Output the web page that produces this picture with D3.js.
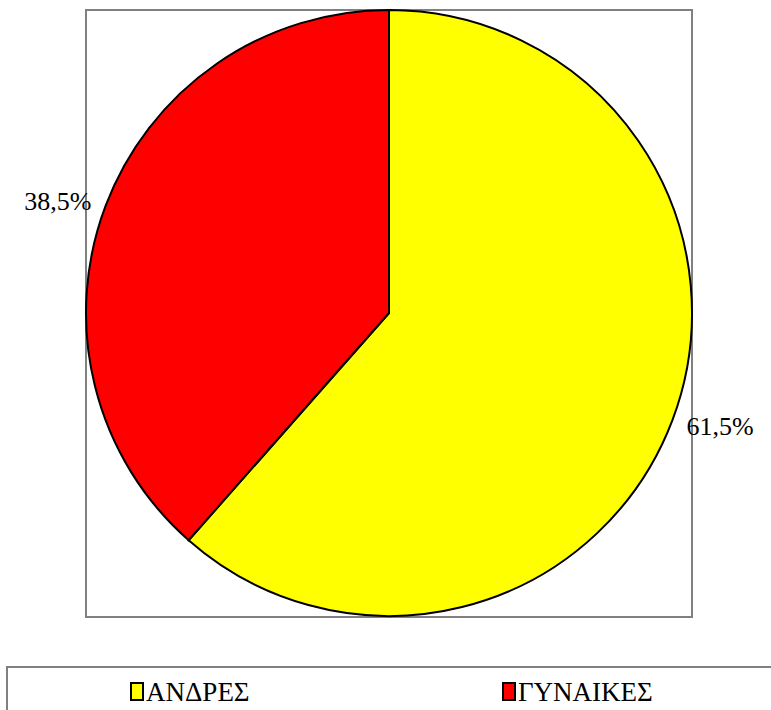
<!DOCTYPE html>
<html>
<head>
<meta charset="utf-8">
<script src="https://cdn.jsdelivr.net/npm/d3@7"></script>
<style>
  body { margin: 0; background: #fff; }
  svg { display: block; }
</style>
</head>
<body>
<svg id="chart" width="771" height="710"></svg>
<script>
// data
var categories = ["ΑΝΔΡΕΣ", "ΓΥΝΑΙΚΕΣ"];
var values = [61.5, 38.5];
var labels = ["61,5%", "38,5%"];
var colors = ["#ffff00", "#ff0000"];

var serif = "'Liberation Serif', serif";

var svg = d3.select("#chart");

var cx = 389, cy = 313, radius = 303;

// plot area frame
svg.append("rect")
    .attr("x", 86).attr("y", 10)
    .attr("width", 606).attr("height", 607)
    .attr("fill", "none")
    .attr("stroke", "#808080")
    .attr("stroke-width", 2);

var pie = d3.pie().sort(null).value(function(d) { return d; });
var arcs = pie(values);

var arc = d3.arc().innerRadius(0).outerRadius(radius);

var g = svg.append("g").attr("transform", "translate(" + cx + "," + cy + ")");

g.selectAll("path")
    .data(arcs)
    .enter().append("path")
    .attr("d", arc)
    .attr("fill", function(d, i) { return colors[i]; })
    .attr("stroke", "#000")
    .attr("stroke-width", 2);

// labels outside the pie
var labelR = 318;
g.selectAll("text.lbl")
    .data(arcs)
    .enter().append("text")
    .attr("class", "lbl")
    .attr("x", function(d) {
        var a = (d.startAngle + d.endAngle) / 2;
        return Math.sin(a) * labelR;
    })
    .attr("y", function(d) {
        var a = (d.startAngle + d.endAngle) / 2;
        return -Math.cos(a) * labelR;
    })
    .attr("text-anchor", function(d) {
        var a = (d.startAngle + d.endAngle) / 2;
        return Math.sin(a) > 0 ? "start" : "end";
    })
    .attr("dy", "0.35em")
    .attr("font-family", serif)
    .attr("font-size", 26)
    .text(function(d, i) { return labels[i]; });

// legend
svg.append("path")
    .attr("d", "M7,710 V667 H771")
    .attr("fill", "none")
    .attr("stroke", "#808080")
    .attr("stroke-width", 2);

var legendX = d3.scalePoint().domain(categories).range([130, 502]);

var leg = svg.selectAll("g.leg")
    .data(categories)
    .enter().append("g")
    .attr("class", "leg")
    .attr("transform", function(d) { return "translate(" + legendX(d) + ",683)"; });

leg.append("rect")
    .attr("x", 1).attr("y", 0)
    .attr("width", 12).attr("height", 17)
    .attr("fill", function(d, i) { return colors[i]; })
    .attr("stroke", "#000")
    .attr("stroke-width", 2);

leg.append("text")
    .attr("x", 16)
    .attr("y", 18)
    .attr("font-family", serif)
    .attr("font-size", 27)
    .text(function(d) { return d; });
</script>
</body>
</html>
